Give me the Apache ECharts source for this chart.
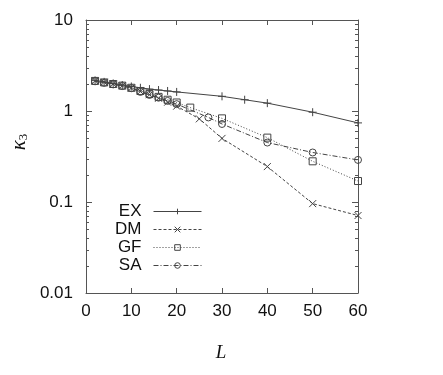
<!DOCTYPE html>
<html><head><meta charset="utf-8">
<script src="https://cdn.jsdelivr.net/npm/echarts@6/dist/echarts.min.js"></script>
<style>html,body{margin:0;padding:0;background:#fff}#c{width:443px;height:375px}</style>
</head><body><div id="c"></div>
<script>
// ---- data ----
const seriesNames = ['EX', 'DM', 'GF', 'SA'];
const exL = [2, 4, 6, 8, 10, 12, 14, 16, 18, 20, 30, 35, 40, 50, 60];
const exK = [2.17, 2.09, 2.01, 1.93, 1.86, 1.80, 1.74, 1.70, 1.66, 1.62, 1.45, 1.33, 1.22, 0.97, 0.74];
const dmL = [2, 4, 6, 8, 10, 12, 14, 16, 18, 20, 25, 30, 40, 50, 60];
const dmK = [2.15, 2.07, 1.98, 1.90, 1.79, 1.64, 1.51, 1.38, 1.25, 1.13, 0.82, 0.50, 0.245, 0.096, 0.071];
const gfL = [2, 4, 6, 8, 10, 12, 14, 16, 18, 20, 23, 30, 40, 50, 60];
const gfK = [2.14, 2.06, 1.98, 1.90, 1.80, 1.66, 1.54, 1.43, 1.33, 1.24, 1.09, 0.83, 0.51, 0.28, 0.17];
const saL = [2, 4, 6, 8, 10, 12, 14, 16, 18, 20, 27, 30, 40, 50, 60];
const saK = [2.12, 2.04, 1.96, 1.88, 1.78, 1.62, 1.50, 1.40, 1.29, 1.19, 0.85, 0.72, 0.45, 0.35, 0.29];
const xTickLabels = ['0', '10', '20', '30', '40', '50', '60'];
const yTickLabels = ['0.01', '0.1', '1', '10'];
const yMinorTicks = [0.02, 0.03, 0.04, 0.05, 0.06, 0.07, 0.08, 0.09,
                     0.2, 0.3, 0.4, 0.5, 0.6, 0.7, 0.8, 0.9,
                     2, 3, 4, 5, 6, 7, 8, 9];

const INK = '#444';
const AX = '#555';
const sansFont = '"Liberation Sans", Arial, Helvetica, sans-serif';
const serifFont = '"Liberation Serif", "DejaVu Serif", serif';

function pairs(xs, ys) { return xs.map((x, i) => [x, ys[i]]); }

const markerDefs = {
  EX: { symbol: 'path://M5,0L5,10M0,5L10,5', size: 8, dash: 'solid' },
  DM: { symbol: 'path://M0,0L10,10M10,0L0,10', size: 7, dash: [3, 2] },
  GF: { symbol: 'rect', size: 7, dash: [1, 2] },
  SA: { symbol: 'circle', size: 7, dash: [5, 2, 1, 2] }
};
const seriesData = { EX: pairs(exL, exK), DM: pairs(dmL, dmK), GF: pairs(gfL, gfK), SA: pairs(saL, saK) };

const lineSeries = seriesNames.map(n => ({
  name: n,
  type: 'line',
  data: seriesData[n],
  symbol: markerDefs[n].symbol,
  symbolSize: markerDefs[n].size,
  showSymbol: true,
  animation: false,
  lineStyle: { color: INK, width: 1, type: markerDefs[n].dash },
  itemStyle: { color: 'rgba(0,0,0,0)', borderColor: INK, borderWidth: 1 },
  emphasis: { disabled: true },
  z: 3
}));

const legendRowsTop = [203, 221, 239, 257];
const legends = seriesNames.map((n, i) => ({
  data: [n],
  orient: 'vertical',
  align: 'right',
  right: 241,
  top: legendRowsTop[i],
  itemWidth: 48,
  itemHeight: 7,
  itemGap: 0,
  padding: 0,
  selectedMode: false,
  lineStyle: { width: 1, color: INK, type: markerDefs[n].dash },
  itemStyle: { color: 'rgba(0,0,0,0)', borderColor: INK, borderWidth: 1 },
  textStyle: { fontFamily: sansFont, fontSize: 17, color: '#111', padding: [0, 7, 0, 0] }
}));

const minorTickSeries = {
  type: 'custom',
  xAxisIndex: 0,
  yAxisIndex: 0,
  silent: true,
  clip: false,
  animation: false,
  data: yMinorTicks.map(v => [0, v]),
  encode: { x: 0, y: 1 },
  renderItem: function (params, api) {
    const p = api.coord([0, api.value(1)]);
    const q = api.coord([60, api.value(1)]);
    const y = Math.round(p[1]) + 0.5;
    return {
      type: 'group',
      children: [
        { type: 'line', shape: { x1: p[0], y1: y, x2: p[0] + 3, y2: y }, style: { stroke: AX, lineWidth: 1 } },
        { type: 'line', shape: { x1: q[0] - 3, y1: y, x2: q[0], y2: y }, style: { stroke: AX, lineWidth: 1 } }
      ]
    };
  }
};

const commonX = {
  type: 'value', min: 0, max: 60, interval: 10,
  axisLine: { show: true, onZero: false, lineStyle: { color: AX, width: 1 } },
  axisTick: { show: true, inside: true, length: 5, lineStyle: { color: AX } },
  splitLine: { show: false }
};
const commonY = {
  type: 'log', logBase: 10, min: 0.01, max: 10, interval: 1,
  axisLine: { show: true, onZero: false, lineStyle: { color: AX, width: 1 } },
  axisTick: { show: true, inside: true, length: 6, lineStyle: { color: AX } },
  splitLine: { show: false }
};

const option = {
  backgroundColor: '#fff',
  animation: false,
  grid: { left: 86, right: 85, top: 20, bottom: 82, containLabel: false },
  xAxis: [
    Object.assign({}, commonX, {
      position: 'bottom',
      axisLabel: { show: true, margin: 10, fontFamily: sansFont, fontSize: 17, color: '#111',
        formatter: (v, i) => xTickLabels[i] }
    }),
    Object.assign({}, commonX, { position: 'top', axisLabel: { show: false } })
  ],
  yAxis: [
    Object.assign({}, commonY, {
      position: 'left',
      axisLabel: { show: true, margin: 13, fontFamily: sansFont, fontSize: 17, color: '#111',
        formatter: (v, i) => yTickLabels[i] }
    }),
    Object.assign({}, commonY, { position: 'right', axisLabel: { show: false } })
  ],
  legend: legends,
  series: lineSeries.concat([minorTickSeries]),
  graphic: [
    {
      type: 'text', x: 19, y: 142, rotation: Math.PI / 2,
      style: {
        text: '{k|κ}{s|3}',
        align: 'center', verticalAlign: 'middle',
        rich: {
          k: { fontFamily: serifFont, fontStyle: 'italic', fontSize: 21, fill: '#111' },
          s: { fontFamily: serifFont, fontSize: 13, fill: '#111', padding: [9, 0, 0, 0] }
        }
      }
    },
    {
      type: 'text', x: 221, y: 353,
      style: { text: 'L', fontFamily: serifFont, fontStyle: 'italic', fontSize: 19, fill: '#111',
        align: 'center', verticalAlign: 'middle' }
    }
  ]
};

const chart = echarts.init(document.getElementById('c'), null, { renderer: 'canvas' });
chart.setOption(option);
</script>
</body></html>
